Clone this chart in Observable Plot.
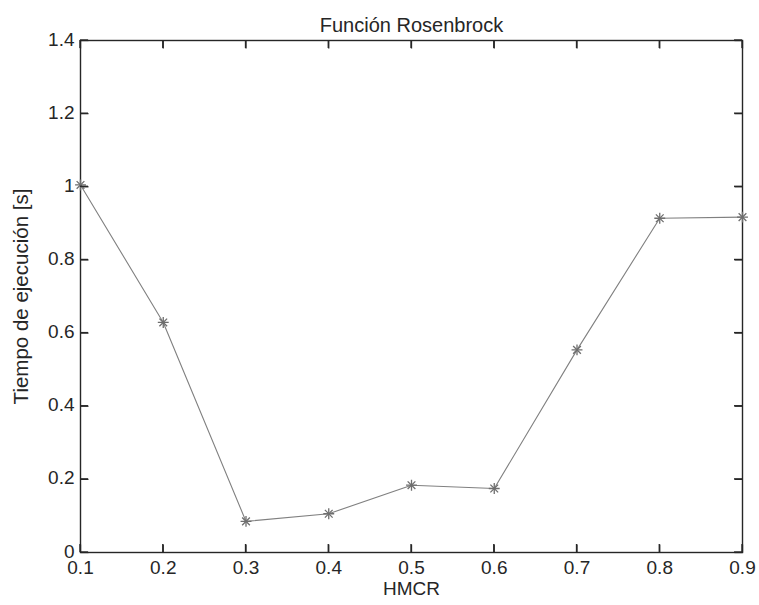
<!DOCTYPE html>
<html>
<head>
<meta charset="utf-8">
<script src="https://cdn.jsdelivr.net/npm/d3@7"></script>
<script src="https://cdn.jsdelivr.net/npm/@observablehq/plot@0.6"></script>
<style>
  html, body { margin: 0; padding: 0; background: #fff; }
  svg { display: block; }
</style>
</head>
<body>
<div id="chart"></div>
<script>
const hmcr = [0.1, 0.2, 0.3, 0.4, 0.5, 0.6, 0.7, 0.8, 0.9];
const tiempo = [1.005, 0.629, 0.085, 0.106, 0.184, 0.175, 0.554, 0.914, 0.917];
const xTicks = [0.1, 0.2, 0.3, 0.4, 0.5, 0.6, 0.7, 0.8, 0.9];
const yTicks = [0, 0.2, 0.4, 0.6, 0.8, 1, 1.2, 1.4];
const title = "Función Rosenbrock";
const xLabel = "HMCR";
const yLabel = "Tiempo de ejecución [s]";

const data = hmcr.map((x, i) => ({x, y: tiempo[i]}));
const font = "Liberation Sans, Arial, Helvetica, sans-serif";
const axisColor = "#262626";
const lineColor = "#808080";

const W = 759, H = 605, mL = 80, mR = 17, mT = 40, mB = 53;
const xDom = [0.1, 0.9], yDom = [0, 1.4];
const frameW = W - mL - mR, frameH = H - mT - mB;
const tickLen = 8;
const tdx = tickLen * (xDom[1] - xDom[0]) / frameW;
const tdy = tickLen * (yDom[1] - yDom[0]) / frameH;

// inward tick segments on all four sides, derived from the tick arrays
const tickSegs = [
  ...xTicks.map(v => ({x1: v, x2: v, y1: yDom[0], y2: yDom[0] + tdy})),
  ...xTicks.map(v => ({x1: v, x2: v, y1: yDom[1] - tdy, y2: yDom[1]})),
  ...yTicks.map(v => ({x1: xDom[0], x2: xDom[0] + tdx, y1: v, y2: v})),
  ...yTicks.map(v => ({x1: xDom[1] - tdx, x2: xDom[1], y1: v, y2: v}))
];

const chart = Plot.plot({
  width: W,
  height: H,
  marginLeft: mL,
  marginRight: mR,
  marginTop: mT,
  marginBottom: mB,
  style: {fontFamily: font, fontSize: "19px", color: axisColor, background: "#fff"},
  x: {domain: xDom},
  y: {domain: yDom},
  marks: [
    Plot.axisX(xTicks, {anchor: "bottom", tickSize: 0, tickPadding: 8, tickFormat: d => String(d), label: null, fontSize: 19, fill: axisColor}),
    Plot.axisY(yTicks, {anchor: "left", tickSize: 0, tickPadding: 6, dy: -1, tickFormat: d => String(d), label: null, fontSize: 19, fill: axisColor}),
    Plot.link(tickSegs, {x1: "x1", y1: "y1", x2: "x2", y2: "y2", stroke: axisColor, strokeWidth: 1.3}),
    Plot.frame({stroke: axisColor, strokeWidth: 1.4}),
    Plot.line(data, {x: "x", y: "y", stroke: lineColor, strokeWidth: 1.1}),
    Plot.dot(data, {x: "x", y: "y", symbol: "plus", r: 3.6, stroke: "#6e6e6e", strokeWidth: 1.3}),
    Plot.dot(data, {x: "x", y: "y", symbol: "times", r: 3.6, stroke: "#6e6e6e", strokeWidth: 1.3}),
    Plot.text([title], {frameAnchor: "top", dy: -23, fontSize: 20, fill: axisColor}),
    Plot.text([xLabel], {frameAnchor: "bottom", dy: 42, fontSize: 19, fill: axisColor}),
    Plot.text([yLabel], {frameAnchor: "left", dx: -59, rotate: -90, textAnchor: "middle", fontSize: 20.5, fill: axisColor})
  ]
});

// draw the tick segments once more on top, positioned through Plot's own scales
try {
  const sx = chart.scale("x"), sy = chart.scale("y");
  d3.select(chart).append("g")
    .attr("stroke", axisColor)
    .attr("stroke-width", 1.3)
    .selectAll("line")
    .data(tickSegs)
    .join("line")
    .attr("x1", d => sx.apply(d.x1))
    .attr("x2", d => sx.apply(d.x2))
    .attr("y1", d => sy.apply(d.y1))
    .attr("y2", d => sy.apply(d.y2));
} catch (e) { /* ticks already drawn by Plot.link */ }

document.getElementById("chart").appendChild(chart);
</script>
</body>
</html>
